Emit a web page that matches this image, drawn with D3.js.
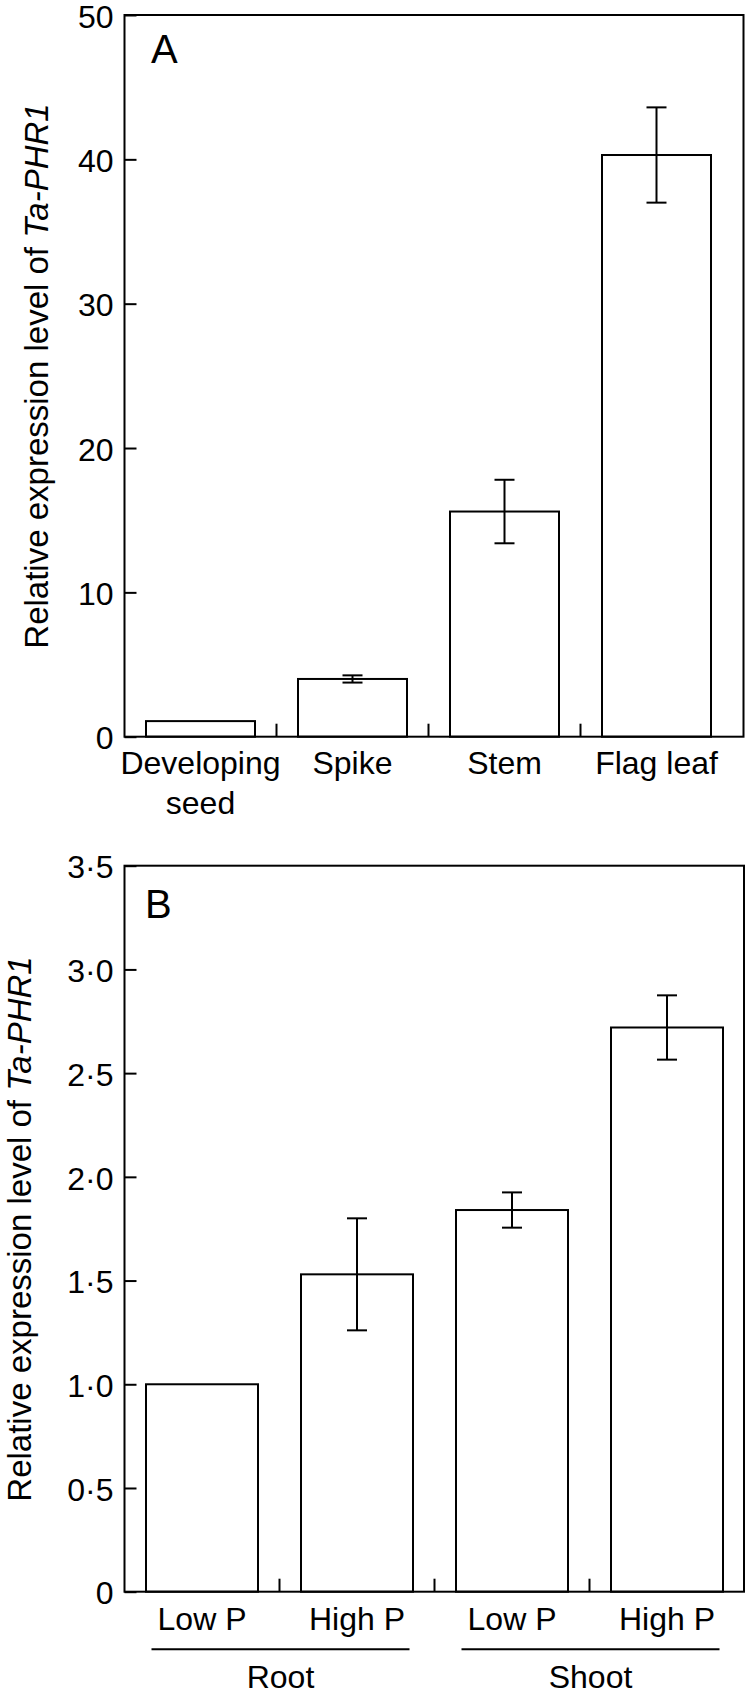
<!DOCTYPE html>
<html>
<head>
<meta charset="utf-8">
<script src="https://cdn.jsdelivr.net/npm/d3@7"></script>
<style>
  html, body { margin: 0; padding: 0; background: #fff; }
  svg { display: block; }
  text { font-family: "Liberation Sans", Arial, Helvetica, sans-serif; fill: #000; }
</style>
</head>
<body>
<svg id="chart" width="745" height="1696"></svg>
<script>
// ---------- Data ----------
// Panel A: tissues
const tissues = ["Developing seed", "Spike", "Stem", "Flag leaf"];
const tissueLabelLines = [["Developing", "seed"], ["Spike"], ["Stem"], ["Flag leaf"]];
const tissueMeans = [1.08, 4.0, 15.6, 40.3];
const tissueErrors = [0, 0.25, 2.2, 3.3];
const ticksA = [0, 10, 20, 30, 40, 50];
const tickLabelsA = ["0", "10", "20", "30", "40", "50"];

// Panel B: phosphate treatments
const treatments = ["Low P", "High P", "Low P", "High P"];
const treatmentOrgan = ["Root", "Root", "Shoot", "Shoot"];
const organs = ["Root", "Shoot"];
const pMeans = [1.0, 1.53, 1.84, 2.72];
const pErrors = [0, 0.27, 0.085, 0.155];
const ticksB = [0, 0.5, 1.0, 1.5, 2.0, 2.5, 3.0, 3.5];
const tickLabelsB = ["0", "0·5", "1·0", "1·5", "2·0", "2·5", "3·0", "3·5"];

// ---------- Drawing ----------
const svg = d3.select("#chart");
svg.append("rect").attr("width", 745).attr("height", 1696).attr("fill", "#fff");

const FS = 32;
const SW = 2;

function yTitle(g, x, yc) {
  const t = g.append("text")
    .attr("transform", `translate(${x},${yc}) rotate(-90)`)
    .attr("text-anchor", "middle")
    .attr("font-size", 33);
  t.append("tspan").text("Relative expression level of ");
  t.append("tspan").attr("font-style", "italic").text("Ta-PHR1");
}

function drawPanel(opt) {
  const g = svg.append("g");
  const { y, x, means, errors, ticks, tickLabels, barW, left, right, top, bottom } = opt;

  // bars
  g.selectAll("rect.bar").data(means).enter().append("rect")
    .attr("class", "bar")
    .attr("x", (d, i) => x(i) + (x.bandwidth() - barW) / 2)
    .attr("width", barW)
    .attr("y", d => y(d))
    .attr("height", d => y(0) - y(d))
    .attr("fill", "#fff").attr("stroke", "#000").attr("stroke-width", SW);

  // error bars
  const eb = g.selectAll("g.err").data(means.map((m, i) => ({ m, e: errors[i], i })).filter(d => d.e > 0))
    .enter().append("g").attr("class", "err")
    .attr("stroke", "#000").attr("stroke-width", SW);
  const cx = d => x(d.i) + x.bandwidth() / 2;
  eb.append("line").attr("x1", cx).attr("x2", cx).attr("y1", d => y(d.m - d.e)).attr("y2", d => y(d.m + d.e));
  eb.append("line").attr("x1", d => cx(d) - 10).attr("x2", d => cx(d) + 10).attr("y1", d => y(d.m + d.e)).attr("y2", d => y(d.m + d.e));
  eb.append("line").attr("x1", d => cx(d) - 10).attr("x2", d => cx(d) + 10).attr("y1", d => y(d.m - d.e)).attr("y2", d => y(d.m - d.e));

  // separator ticks between categories (inward)
  g.selectAll("line.sep").data(d3.range(1, means.length)).enter().append("line")
    .attr("x1", i => x(i)).attr("x2", i => x(i))
    .attr("y1", y(0)).attr("y2", y(0) - 13)
    .attr("stroke", "#000").attr("stroke-width", SW);

  // y axis
  const ax = g.append("g").attr("transform", `translate(${left},0)`)
    .call(d3.axisLeft(y).tickValues(ticks).tickFormat((d, i) => tickLabels[i])
      .tickSizeInner(-12).tickSizeOuter(0).tickPadding(11));
  ax.select(".domain").remove();
  ax.selectAll(".tick line").attr("stroke", "#000").attr("stroke-width", SW);
  ax.selectAll(".tick text").attr("font-size", FS).attr("font-family", null).attr("fill", "#000").attr("dy", "0.38em");

  // frame
  g.append("rect").attr("x", left).attr("y", top).attr("width", right - left).attr("height", bottom - top)
    .attr("fill", "none").attr("stroke", "#000").attr("stroke-width", SW);
  return g;
}

// Panel A
const yA = d3.scaleLinear().domain([0, 50]).range([736.7, 15]);
const xA = d3.scaleBand().domain(d3.range(tissues.length)).range([124.5, 732.5]).padding(0);
const gA = drawPanel({ y: yA, x: xA, means: tissueMeans, errors: tissueErrors, ticks: ticksA, tickLabels: tickLabelsA,
  barW: 109, left: 124.5, right: 743.5, top: yA(50), bottom: yA(0) });
tissueLabelLines.forEach((lines, i) => {
  const t = gA.append("text").attr("text-anchor", "middle").attr("font-size", FS)
    .attr("x", xA(i) + xA.bandwidth() / 2).attr("y", 773.5);
  lines.forEach((ln, k) => t.append("tspan").attr("x", xA(i) + xA.bandwidth() / 2).attr("dy", k === 0 ? 0 : 40.5).text(ln));
});
gA.append("text").attr("x", 151).attr("y", 63).attr("font-size", 40).text("A");
yTitle(gA, 48, 376);

// Panel B
const yB = d3.scaleLinear().domain([0, 3.5]).range([1591.7, 865.7]);
const xB = d3.scaleBand().domain(d3.range(treatments.length)).range([124.5, 744.5]).padding(0);
const gB = drawPanel({ y: yB, x: xB, means: pMeans, errors: pErrors, ticks: ticksB, tickLabels: tickLabelsB,
  barW: 112, left: 124.5, right: 744, top: yB(3.5), bottom: yB(0) });
gB.selectAll("text.treat").data(treatments).enter().append("text")
  .attr("class", "treat").attr("text-anchor", "middle").attr("font-size", FS)
  .attr("x", (d, i) => xB(i) + xB.bandwidth() / 2).attr("y", 1630).text(d => d);
organs.forEach(o => {
  const idx = d3.range(treatments.length).filter(i => treatmentOrgan[i] === o);
  const x0 = xB(idx[0]) + 27, x1 = xB(idx[idx.length - 1]) + xB.bandwidth() - 25;
  gB.append("line").attr("x1", x0).attr("x2", x1).attr("y1", 1649.3).attr("y2", 1649.3)
    .attr("stroke", "#000").attr("stroke-width", SW);
  gB.append("text").attr("text-anchor", "middle").attr("font-size", FS)
    .attr("x", (x0 + x1) / 2).attr("y", 1688).text(o);
});
gB.append("text").attr("x", 145).attr("y", 917.5).attr("font-size", 40).text("B");
yTitle(gB, 31, 1229);
</script>
</body>
</html>
